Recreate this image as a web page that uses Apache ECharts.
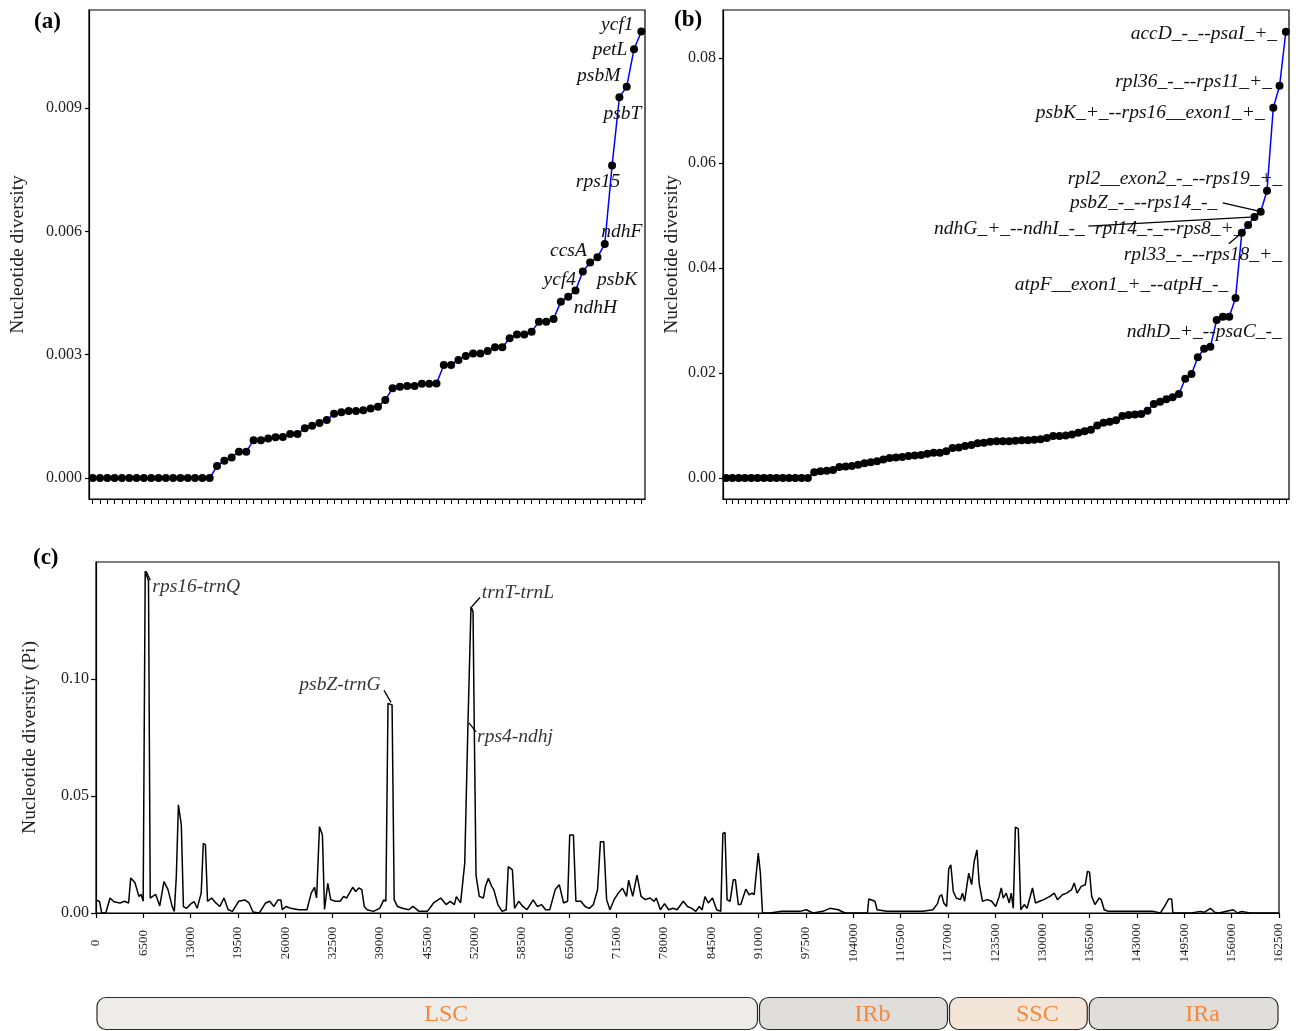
<!DOCTYPE html>
<html><head><meta charset="utf-8">
<script src="https://cdn.jsdelivr.net/npm/echarts@6/dist/echarts.min.js"></script>
<style>html,body{margin:0;padding:0;background:#fff}#c{width:1301px;height:1031px}</style>
</head><body><div id="c"></div>
<script>
// ---------- DATA ----------
// (a) genes, ranked nucleotide diversity
const valuesA = [0,0,0,0,0,0,0,0,0,0,0,0,0,0,0,0,0,
 0.00029,0.00042,0.00050,0.00064,0.00064,0.00092,0.00092,0.00096,0.00099,0.00100,
 0.00107,0.00107,0.00121,0.00127,0.00134,0.00141,0.00156,0.00160,0.00163,0.00163,
 0.00165,0.00169,0.00173,0.00190,0.00218,0.00222,0.00224,0.00224,0.00229,0.00229,
 0.00230,0.00275,0.00275,0.00287,0.00297,0.00303,0.00303,0.00309,0.00318,0.00318,
 0.00340,0.00349,0.00349,0.00356,0.00380,0.00380,0.00387,0.00429,0.00441,0.00456,
 0.00502,0.00524,0.00537,0.00569,0.00760,0.00926,0.00952,0.01043,0.01086];
const categoriesA = valuesA.map((_, i) => String(i + 1));
const labelRankA = [66,67,68,69,70,71,72,73,74,75];
const labelNamesA = ['ndhH','ycf4','psbK','ccsA','ndhF','rps15','psbT','psbM','petL','ycf1'];
const yTicksA = [0, 0.003, 0.006, 0.009];

// (b) intergenic regions, ranked nucleotide diversity
const valuesB = [0,0,0,0,0,0,0,0,0,0,0,0,0,0,
 0.0011,0.0013,0.0014,0.0015,0.0021,0.0022,0.0023,0.0025,0.0028,0.0030,
 0.0032,0.0035,0.0038,0.0039,0.0040,0.0042,0.0043,0.0044,0.0046,0.0048,
 0.0048,0.0051,0.0057,0.0058,0.0061,0.0063,0.0066,0.0067,0.0069,0.0070,
 0.0070,0.0070,0.0071,0.0072,0.0072,0.0073,0.0074,0.0076,0.0080,0.0080,
 0.0081,0.0083,0.0086,0.0089,0.0092,0.0100,0.0105,0.0107,0.0110,0.0118,
 0.0120,0.0121,0.0122,0.0128,0.0141,0.0145,0.0150,0.0154,0.0160,0.0189,
 0.0198,0.0230,0.0246,0.0250,0.0301,0.0307,0.0307,0.0343,0.0467,0.0482,
 0.0497,0.0507,0.0547,0.0705,0.0747,0.0850];
const categoriesB = valuesB.map((_, i) => String(i + 1));
const labelRankB = [80,81,82,83,84,85,86,87,88,89];
const labelNamesB = ['ndhD_+_--psaC_-_','atpF__exon1_+_--atpH_-_','rpl33_-_--rps18_+_','rpl14_-_--rps8_+_',
 'ndhG_+_--ndhI_-_','psbZ_-_--rps14_-_','rpl2__exon2_-_--rps19_+_','psbK_+_--rps16__exon1_+_',
 'rpl36_-_--rps11_+_','accD_-_--psaI_+_'];
const yTicksB = [0, 0.02, 0.04, 0.06, 0.08];

// (c) sliding-window Pi along the plastome: [position, Pi]
const piWindows = [[40,0.0056],[495,0.0048],[780,0],[1350,0],[1920,0.0064],[2470,0.0048],[3300,0.0043],[3920,0.005],[4480,0.0043],[4770,0.015],[5340,0.013],[5910,0.007],[6200,0.008],[6480,0.005],[6760,0.146],[7210,0.142],[7450,0.0064],[8190,0.008],[8760,0.003],[9330,0.0134],[9890,0.01],[10470,0.0027],[10760,0.0007],[11030,0.0155],[11320,0.0462],[11720,0.0376],[12010,0.0027],[12460,0.002],[13040,0.004],[13490,0.0048],[13890,0.002],[14450,0.0085],[14740,0.0298],[15030,0.0292],[15320,0.005],[15880,0.0064],[16460,0.0043],[17020,0.0028],[17580,0.0064],[18160,0.0014],[18740,0.0007],[19590,0.005],[20440,0.0056],[21020,0.0043],[21570,0.0004],[22430,0],[23300,0.0043],[23860,0.005],[24440,0.0028],[25000,0.0056],[25400,0.0056],[25580,0.0014],[26140,0.0028],[26720,0.002],[27860,0.0014],[28980,0.0014],[29560,0.0085],[30010,0.011],[30300,0.0064],[30700,0.0369],[31100,0.0333],[31390,0.0015],[31840,0.0127],[32240,0.0057],[32870,0.005],[33540,0.005],[34010,0.0071],[34410,0.0064],[35260,0.011],[35660,0.0092],[36110,0.0107],[36510,0.01],[36850,0.0028],[37250,0.0014],[38100,0.0007],[38970,0.002],[39530,0.0056],[39820,0.005],[40110,0.0896],[40670,0.0889],[40960,0.0056],[41410,0.0028],[42100,0.002],[42950,0.0014],[43530,0.0028],[44380,0.0007],[45520,0.0007],[46370,0.0043],[47350,0.0064],[48090,0.0036],[48650,0.005],[49230,0.0036],[49500,0.007],[50080,0.0043],[50650,0.0212],[51100,0.0817],[51510,0.131],[51790,0.1288],[51960,0.0796],[52200,0.0161],[52650,0.0071],[53210,0.0064],[53500,0.0114],[53900,0.0148],[54350,0.0114],[54640,0.01],[55200,0.0036],[55780,0.0007],[56350,0.0014],[56630,0.0198],[57200,0.0184],[57490,0.002],[58060,0.005],[58630,0.0028],[59200,0.0014],[60050,0.0056],[60620,0.0028],[61190,0.0036],[61760,0.0014],[62330,0.0014],[63080,0.01],[63640,0.0121],[64220,0.0043],[64780,0.005],[65070,0.0333],[65580,0.0333],[65920,0.005],[66610,0.005],[67180,0.0028],[67750,0.002],[68320,0.0036],[68890,0.0098],[69290,0.0305],[69740,0.0305],[70140,0.0057],[70600,0.0014],[71170,0.0057],[71740,0.0085],[72310,0.0106],[72880,0.0071],[73160,0.014],[73730,0.0071],[74310,0.0162],[74870,0.0071],[75440,0.0057],[76100,0.0064],[76670,0.005],[76960,0.0064],[77530,0.0014],[78100,0.004],[78670,0.0014],[79240,0.002],[79820,0.0014],[80670,0.005],[81250,0.0028],[81830,0.002],[82390,0.0007],[82860,0.0028],[83250,0.0014],[83650,0.007],[84110,0.0043],[84680,0.0064],[85260,0.0014],[85820,0.0007],[86110,0.034],[86400,0.0344],[86690,0.0057],[87090,0.005],[87540,0.0142],[87830,0.0142],[88230,0.0036],[88570,0.0036],[89260,0.0102],[89720,0.0078],[90120,0.0085],[90410,0.0078],[90970,0.0256],[91260,0.0171],[91550,0],[92580,0],[94190,0.0007],[95560,0.0007],[96700,0.0007],[97570,0.0014],[98490,0],[99850,0.0007],[100820,0.002],[101960,0.0014],[102880,0],[104600,0],[105970,0],[106150,0.006],[107000,0.005],[107290,0.0014],[108610,0.0007],[109860,0.0007],[112050,0.0007],[113590,0.0007],[114970,0.0014],[115590,0.004],[115880,0.0071],[116170,0.0078],[116450,0.0043],[116850,0.0028],[117140,0.019],[117420,0.0206],[117760,0.0092],[118160,0.0064],[118740,0.0057],[119020,0.0085],[119310,0.005],[119880,0.017],[120280,0.0121],[120630,0.022],[121010,0.027],[121310,0.0128],[121770,0.005],[122450,0.0057],[123030,0.005],[123590,0.0028],[124060,0.0071],[124350,0.0107],[124620,0.0064],[125030,0.0085],[125440,0.0043],[125720,0.0085],[126000,0.002],[126290,0.0367],[126690,0.0359],[127030,0.0014],[127500,0.0036],[127890,0.002],[128640,0.0107],[129040,0.0043],[129610,0.005],[130180,0.0057],[131040,0.0071],[131620,0.0085],[132070,0.0057],[132760,0.0078],[133340,0.0085],[134020,0.01],[134370,0.0128],[134760,0.0085],[135330,0.0114],[135900,0.0121],[136190,0.0178],[136480,0.0174],[136770,0.0071],[137220,0.0036],[137800,0.0064],[138080,0.0057],[138490,0.0014],[139050,0.0007],[140080,0.0007],[140770,0.0007],[141920,0.0007],[143060,0.0007],[143920,0.0007],[145230,0.0007],[146210,0],[146780,0.0028],[147350,0.006],[147760,0.006],[147920,0],[149350,0],[150510,0],[151650,0.0007],[152230,0.0003],[153080,0.002],[153660,0.0003],[154230,0],[156220,0.0014],[156800,0],[157370,0.0007],[158520,0],[159660,0],[162500,0]];
const peakNames = ['rps16-trnQ','psbZ-trnG','trnT-trnL','rps4-ndhj'];
const peakPos = [6760, 40110, 51510, 51100];
const peakPi = [0.146, 0.0896, 0.131, 0.0817];
const yTicksC = [0, 0.05, 0.10];
const genomeLength = 162500;
const xTickStepC = 6500;

// plastome regions
const regionNames = ['LSC','IRb','SSC','IRa'];
const regionStart = [0, 91000, 117100, 136300];
const regionEnd = [91000, 117100, 136300, 162500];

// ---------- STYLE ----------
const FONT = "'Liberation Serif','Times New Roman',serif";
const offA = [[20,17],[-23,8],[27,17],[-29,-6],[17,-12],[-14,16],[3,17],[-28,-11],[-24,1],[-24,-7]];
const offB = [[-25,15],[-114,-13],[-39,22],[-79,4],[-245,12],[-117,-9],[-92,-12],[-123,5],[-86,-4],[-82,2]];
const offC = [[51,16],[-48,-18],[47,-14],[47,15]];
// leader segments, [start, end] relative to the labelled point (pixels)
const leaderB = {82: [[-13,11],[0,0]], 84: [[-166,9],[-4,0]], 85: [[-38,-9],[-3,-1]]};
const leaderC = [[[1,0],[5,9]], [[-4,-13],[3,-1]], [[1,0],[9,-9]], [[1,1],[8,10]]];
const regionFill = ['#eeece8','#dfdedb','#f3e5d8','#dfdedb'];
const regionTextShift = 19;

const chart = echarts.init(document.getElementById('c'), null, {renderer:'canvas', width:1301, height:1031});

function rankedData(values, ranks, names) {
  return values.map((v, i) => {
    const k = ranks.indexOf(i);
    if (k < 0) return v;
    return {value: v, label: {show: true, formatter: names[k]}};
  });
}
const tickLabel = {fontFamily: FONT, fontSize: 16, color: '#222'};
const axisBlack = {show: true, onZero: false, lineStyle: {color: '#000', width: 1.2}};
const italicLabel = {show: false, position: 'inside', align: 'center', verticalAlign: 'middle',
  fontFamily: FONT, fontStyle: 'italic', fontSize: 19.5, color: '#111'};
const nameStyle = {fontFamily: FONT, fontSize: 19.5, color: '#222'};

const panelTags = [
  {type: 'text', left: 34, top: 11, style: {text: '(a)', font: 'bold 23px ' + FONT, fill: '#000'}},
  {type: 'text', left: 674, top: 9, style: {text: '(b)', font: 'bold 23px ' + FONT, fill: '#000'}},
  {type: 'text', left: 33, top: 547, style: {text: '(c)', font: 'bold 23px ' + FONT, fill: '#000'}}
];

const option = {
  animation: false,
  backgroundColor: '#fff',
  grid: [
    {left: 89, top: 10, width: 556, height: 489, show: true, borderColor: '#000', borderWidth: 1.2, backgroundColor: 'transparent'},
    {left: 723, top: 10, width: 566, height: 489, show: true, borderColor: '#000', borderWidth: 1.2, backgroundColor: 'transparent'},
    {left: 96, top: 562, width: 1183, height: 351, show: true, borderColor: '#000', borderWidth: 1.2, backgroundColor: 'transparent'},
    {left: 96, top: 997, width: 1183, height: 33}
  ],
  xAxis: [
    {gridIndex: 0, type: 'category', data: categoriesA, boundaryGap: true, axisLine: axisBlack,
     axisTick: {show: true, alignWithLabel: true, interval: 0, length: 5, lineStyle: {color: '#000'}},
     axisLabel: {show: false}, splitLine: {show: false}},
    {gridIndex: 1, type: 'category', data: categoriesB, boundaryGap: true, axisLine: axisBlack,
     axisTick: {show: true, alignWithLabel: true, interval: 0, length: 5, lineStyle: {color: '#000'}},
     axisLabel: {show: false}, splitLine: {show: false}},
    {gridIndex: 2, type: 'value', min: 0, max: genomeLength, interval: xTickStepC, axisLine: axisBlack,
     axisTick: {show: true, length: 5, lineStyle: {color: '#000', width: 1.2}},
     axisLabel: Object.assign({}, tickLabel, {rotate: 90, align: 'center', verticalAlign: 'middle', margin: 30,
       fontSize: 13, formatter: v => String(v)}),
     splitLine: {show: false}},
    {gridIndex: 3, type: 'value', min: 0, max: genomeLength, show: false}
  ],
  yAxis: [
    {gridIndex: 0, type: 'value', min: -0.000511, max: 0.011384, axisLine: axisBlack,
     axisTick: {show: true, length: 4, customValues: yTicksA, lineStyle: {color: '#000', width: 1.2}},
     axisLabel: Object.assign({customValues: yTicksA, margin: 7, formatter: v => v.toFixed(3)}, tickLabel),
     splitLine: {show: false},
     name: 'Nucleotide diversity', nameLocation: 'middle', nameGap: 61, nameTextStyle: nameStyle},
    {gridIndex: 1, type: 'value', min: -0.004, max: 0.08914, axisLine: axisBlack,
     axisTick: {show: true, length: 4, customValues: yTicksB, lineStyle: {color: '#000', width: 1.2}},
     axisLabel: Object.assign({customValues: yTicksB, margin: 7, formatter: v => v.toFixed(2)}, tickLabel),
     splitLine: {show: false},
     name: 'Nucleotide diversity', nameLocation: 'middle', nameGap: 41, nameTextStyle: nameStyle},
    {gridIndex: 2, type: 'value', min: 0, max: 0.15, axisLine: axisBlack,
     axisTick: {show: true, length: 5, customValues: yTicksC, lineStyle: {color: '#000', width: 1.2}},
     axisLabel: Object.assign({customValues: yTicksC, margin: 7, formatter: v => v.toFixed(2)}, tickLabel),
     splitLine: {show: false},
     name: 'Nucleotide diversity (Pi)', nameLocation: 'middle', nameGap: 56, nameTextStyle: nameStyle},
    {gridIndex: 3, type: 'value', min: 0, max: 1, show: false}
  ],
  series: [
    {type: 'line', xAxisIndex: 0, yAxisIndex: 0, data: rankedData(valuesA, labelRankA, labelNamesA),
     symbol: 'circle', symbolSize: 8, showAllSymbol: true, silent: true, z: 3,
     itemStyle: {color: '#000'}, lineStyle: {color: '#0000ff', width: 1.5},
     label: italicLabel,
     labelLayout: p => { const k = labelRankA.indexOf(p.dataIndex); return k < 0 ? {} : {dx: offA[k][0], dy: offA[k][1]}; }},
    {type: 'line', xAxisIndex: 1, yAxisIndex: 1, data: rankedData(valuesB, labelRankB, labelNamesB),
     symbol: 'circle', symbolSize: 8, showAllSymbol: true, silent: true, z: 3,
     itemStyle: {color: '#000'}, lineStyle: {color: '#0000ff', width: 1.5},
     label: italicLabel,
     labelLayout: p => { const k = labelRankB.indexOf(p.dataIndex); return k < 0 ? {} : {dx: offB[k][0], dy: offB[k][1]}; }},
    {type: 'line', xAxisIndex: 2, yAxisIndex: 2, data: piWindows, showSymbol: false, silent: true,
     lineStyle: {color: '#000', width: 1.5}, z: 3},
    {type: 'scatter', xAxisIndex: 2, yAxisIndex: 2, data: peakPos.map((p, i) => [p, peakPi[i]]),
     symbolSize: 1, itemStyle: {color: 'rgba(0,0,0,0)'}, silent: true, z: 4,
     label: Object.assign({}, italicLabel, {show: true, color: '#000', formatter: p => peakNames[p.dataIndex]}),
     labelLayout: p => ({dx: offC[p.dataIndex][0], dy: offC[p.dataIndex][1]})},
    {type: 'custom', xAxisIndex: 3, yAxisIndex: 3, silent: true,
     data: regionStart.map((s, i) => [s, regionEnd[i]]),
     renderItem: (params, api) => {
       const i = params.dataIndex;
       const p0 = api.coord([api.value(0), 1]);
       const p1 = api.coord([api.value(1), 0]);
       return {type: 'group', children: [
         {type: 'rect', shape: {x: p0[0] + 1, y: p0[1] + 0.5, width: p1[0] - p0[0] - 2, height: p1[1] - p0[1] - 1, r: 9},
          style: {fill: regionFill[i], stroke: '#2a2a2a', lineWidth: 1.2}},
         {type: 'text', style: {text: regionNames[i], x: (p0[0] + p1[0]) / 2 + regionTextShift, y: (p0[1] + p1[1]) / 2 + 1,
          align: 'center', verticalAlign: 'middle', fill: '#f5883c', font: '24px ' + FONT}}
       ]};
     }}
  ],
  graphic: panelTags
};
chart.setOption(option);

// leader segments anchored on the library-computed point positions
const leaders = [];
function leader(grid, pt, seg) {
  const p = chart.convertToPixel({gridIndex: grid}, pt);
  leaders.push({type: 'line', silent: true, z: 100,
    shape: {x1: p[0] + seg[0][0], y1: p[1] + seg[0][1], x2: p[0] + seg[1][0], y2: p[1] + seg[1][1]},
    style: {stroke: '#000', lineWidth: 1.3}});
}
Object.keys(leaderB).forEach(k => { const i = +k; leader(1, [i, valuesB[i]], leaderB[k]); });
peakPos.forEach((p, i) => leader(2, [p, peakPi[i]], leaderC[i]));
chart.setOption({graphic: panelTags.concat(leaders)});
</script>
</body></html>
